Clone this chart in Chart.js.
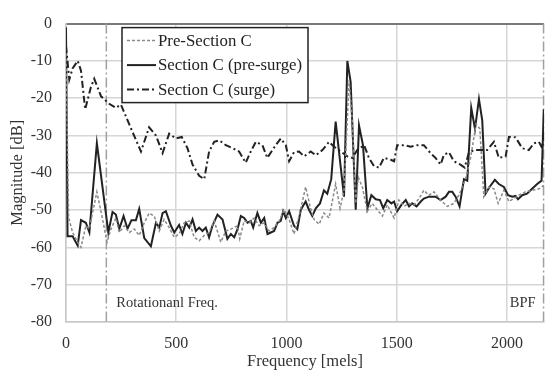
<!DOCTYPE html>
<html lang="en">

<head>
  <meta charset="UTF-8" />
  <script src="https://cdn.jsdelivr.net/npm/chart.js"></script>
  <title>Magnitude spectrum - Section C</title>
  <style>
    html, body { margin: 0; padding: 0; background: #fff; }
    .box { width: 547px; height: 372px; }
  </style>
</head>

<body>
  <div class="box">
    <canvas id="grafico_espectro" width="547" height="372"></canvas>
  </div>
</body>

</html>

<script>
  // Pre-Section C (gray dashed)
  var preFreq = [0, 12, 30, 53, 68, 90, 106, 140, 166, 186, 204, 226, 242, 264, 287, 310, 332, 355, 377, 400,
    423, 445, 468, 491, 513, 536, 559, 581, 604, 627, 649, 672, 702, 725, 748, 778, 788, 808, 831, 853,
    876, 899, 921, 944, 967, 989, 1012, 1034, 1057, 1087, 1107, 1125, 1148, 1170, 1193, 1223, 1243, 1261, 1284, 1299,
    1314, 1326, 1344, 1367, 1389, 1412, 1435, 1457, 1488, 1510, 1533, 1556, 1578, 1601, 1623, 1646, 1669, 1699, 1729, 1759,
    1782, 1812, 1835, 1860, 1877, 1895, 1918, 1941, 1960, 1986, 2009, 2031, 2054, 2084, 2114, 2145, 2167]
  var preDb = [-8, -52, -56, -58.6, -60, -54.2, -55, -45.1, -52.5, -58.6, -55.1, -52.1, -56, -54.2, -56, -55.1, -56.8, -53.4, -50.8, -51.6,
    -55.6, -52.5, -54.7, -57.3, -56.4, -53.4, -52.9, -57.3, -58.2, -56.8, -56, -52.9, -58.6, -55.6, -55.1, -54.2, -57.7, -52.9, -53.4, -52.1,
    -54.2, -53.4, -55.6, -54.7, -52.9, -49.9, -52.5, -56.4, -51.6, -43.8, -49, -52.5, -53.8, -50.8, -52.1, -43, -49.5, -44.7, -15.2, -26.5,
    -48.2, -41.2, -43.8, -50.3, -48.2, -49.9, -51.6, -48.6, -52.1, -47.3, -49, -48.2, -48.6, -46.9, -44.7, -46, -45.1, -47.3, -49, -48.2,
    -46, -41.7, -36, -26.9, -28.2, -46.4, -43.8, -44.3, -48.2, -44.7, -47.7, -46.9, -46, -45.1, -44.7, -44.3, -43.4]

  // Section C (pre-surge) (black solid)
  var preSurgeFreq = [0, 7, 30, 53, 68, 90, 106, 140, 192, 211, 226, 242, 261, 279, 297, 317, 332, 355, 385, 408,
    423, 438, 453, 476, 491, 513, 528, 544, 559, 574, 589, 604, 619, 634, 649, 664, 687, 710, 732, 748,
    763, 778, 793, 808, 823, 838, 849, 868, 884, 899, 914, 929, 944, 959, 974, 985, 997, 1012, 1034, 1049,
    1065, 1087, 1102, 1117, 1133, 1152, 1170, 1185, 1203, 1223, 1261, 1276, 1291, 1314, 1329, 1347, 1367, 1385, 1405,
    1424, 1439, 1457, 1476, 1488, 1502, 1521, 1541, 1556, 1570, 1590, 1609, 1623, 1646, 1676, 1699, 1722, 1737, 1752, 1767,
    1785, 1805, 1820, 1838, 1855, 1873, 1888, 1903, 1921, 1945, 1963, 1986, 2005, 2024, 2039, 2050, 2069, 2091, 2114, 2137,
    2157, 2167]
  var preSurgeDb = [-1, -57, -57, -59.5, -52.7, -53.4, -56, -32.1, -56, -50.5, -51.2, -55, -51.6, -55, -52.7, -52.7, -49.7, -57.5, -59.7, -53.4,
    -54.7, -50.8, -50.3, -54.2, -56, -54, -56.4, -53.4, -54.7, -52.5, -55.6, -54.7, -55.6, -54.7, -57.3, -54.2, -51.2, -52.5, -57.7, -56.4,
    -57.3, -55.1, -51.6, -52.1, -53.4, -52.9, -54.7, -50.8, -53.4, -52.1, -56.4, -56, -55.6, -53.4, -52.9, -50.3, -52.1, -50.3, -54.2, -55.1,
    -49.9, -47.7, -49.9, -51.6, -49.5, -48.2, -44.7, -45.6, -41.7, -26.3, -46.4, -10, -15.6, -49.9, -27.3, -32.6, -49.5, -46, -47.1,
    -47.3, -49.5, -47.3, -48.2, -47.7, -50.3, -48.6, -47.3, -49, -48.2, -49, -47.7, -46.9, -46.4, -46.4, -47.3, -46.4, -45.1, -45.1, -46.4,
    -49, -41.7, -42.1, -22.6, -28.2, -20.2, -26, -45.6, -43.8, -41.9, -43, -43.8, -46, -46.4, -46.2, -47.1, -46, -45.6, -44.3, -43,
    -42.1, -23]

  // Section C (surge) (black dash-dot)
  var surgeFreq = [0, 15, 30, 53, 68, 87, 113, 128, 159, 196, 226, 249, 294, 340, 377, 408, 438, 468, 498, 525,
    551, 574, 604, 627, 649, 672, 695, 725, 755, 785, 815, 838, 861, 891, 913, 951, 974, 997, 1012, 1034,
    1057, 1080, 1110, 1133, 1163, 1193, 1216, 1246, 1276, 1299, 1321, 1352, 1374, 1397, 1420, 1442, 1473, 1488, 1502, 1533,
    1563, 1593, 1623, 1653, 1676, 1699, 1714, 1737, 1759, 1789, 1808, 1827, 1850, 1880, 1910, 1941, 1963, 1994, 2009, 2039,
    2069, 2099, 2122, 2145, 2160, 2167]
  var surgeDb = [-6, -15, -12, -10, -12.6, -23, -17, -14.8, -19.5, -21.5, -22.6, -21.7, -28, -34.3, -27.8, -30, -34.7, -29.5, -30.8, -30.4,
    -33.4, -37.8, -40.8, -41.7, -34.3, -31.7, -31.3, -32.6, -33.4, -34.3, -37.3, -34.3, -31.7, -32.6, -36, -32.6, -30.8, -32.6, -36.9, -34.5,
    -34.3, -35.6, -34.3, -35.3, -33.9, -31.7, -33, -34.3, -35.6, -36, -33.9, -32.6, -36, -38.2, -38.6, -36, -36.5, -36.9, -32.6, -32.6,
    -33, -32.6, -32.6, -34.7, -36, -37.8, -35.2, -34.5, -36.9, -37.8, -38.6, -34.7, -33.9, -33.9, -33.9, -31.7, -36, -35.6, -30.4, -30.5,
    -33.4, -33.9, -32.1, -31.7, -33.4, -29]

  // ticks do eixo x
  var xTicks = [0, 500, 1000, 1500, 2000]

  // linhas de referencia
  var rotFreq = 183
  var bpfFreq = 2166
  var xMax = 2168

  function juntar(xs, ys) {
    return xs.map(function (x, i) { return { x: x, y: ys[i] } })
  }

  var fonte = "'Liberation Serif', 'Times New Roman', serif"

  // legenda e linhas verticais desenhadas por cima
  const extras = {
    id: "extras",
    beforeDatasetsDraw(chart) {
      const ctx = chart.ctx
      const a = chart.chartArea
      const sx = chart.scales.x
      ctx.save()
      ctx.strokeStyle = "#a0a0a0"
      ctx.lineWidth = 1.5
      ctx.setLineDash([10, 3, 2, 3])
      ;[rotFreq, bpfFreq].forEach(function (f) {
        var px = sx.getPixelForValue(f)
        ctx.beginPath()
        ctx.moveTo(px, a.top)
        ctx.lineTo(px, a.bottom)
        ctx.stroke()
      })
      ctx.setLineDash([])
      ctx.fillStyle = "#333"
      ctx.font = "14.5px " + fonte
      ctx.textBaseline = "middle"
      ctx.textAlign = "left"
      ctx.fillText("Rotationanl Freq.", sx.getPixelForValue(rotFreq) + 10, a.bottom - 19)
      ctx.textAlign = "right"
      ctx.fillText("BPF", sx.getPixelForValue(bpfFreq) - 8, a.bottom - 19)
      ctx.restore()
    },
    afterDatasetsDraw(chart) {
      const ctx = chart.ctx
      const a = chart.chartArea
      var bx = a.left + 56, by = a.top + 4, bw = 186, bh = 75
      ctx.save()
      ctx.fillStyle = "#fff"
      ctx.fillRect(bx, by, bw, bh)
      ctx.strokeStyle = "#222"
      ctx.lineWidth = 1.5
      ctx.strokeRect(bx, by, bw, bh)
      ctx.font = "16.8px " + fonte
      ctx.textBaseline = "middle"
      ctx.textAlign = "left"
      chart.data.datasets.forEach(function (ds, i) {
        var ly = by + 13 + i * 24.5
        ctx.strokeStyle = ds.borderColor
        ctx.lineWidth = ds.borderWidth
        ctx.setLineDash(ds.borderDash || [])
        ctx.beginPath()
        ctx.moveTo(bx + 5, ly)
        ctx.lineTo(bx + 34, ly)
        ctx.stroke()
        ctx.fillStyle = "#222"
        ctx.fillText(ds.label, bx + 36, ly + 1)
      })
      ctx.restore()
    }
  }

  const espectro = document.getElementById("grafico_espectro").getContext("2d")

  const dadosEspectro = {
    datasets: [{
        label: "Pre-Section C",
        data: juntar(preFreq, preDb),
        borderColor: "#8a8a8a",
        borderWidth: 1.5,
        borderDash: [3, 2],
      },
      {
        label: "Section C (pre-surge)",
        data: juntar(preSurgeFreq, preSurgeDb),
        borderColor: "#222",
        borderWidth: 2,
      },
      {
        label: "Section C (surge)",
        data: juntar(surgeFreq, surgeDb),
        borderColor: "#222",
        borderWidth: 2,
        borderDash: [7, 3, 2, 3],
      },
    ],
  }

  const configEspectro = {
    type: "line",
    data: dadosEspectro,
    plugins: [extras],
    options: {
      responsive: false,
      animation: false,
      layout: { padding: { top: 15, right: 3, left: 0, bottom: 0 } },
      elements: { point: { radius: 0 }, line: { tension: 0, fill: false } },
      plugins: { legend: { display: false }, tooltip: { enabled: false } },
      scales: {
        x: {
          type: "linear",
          min: 0,
          max: xMax,
          afterFit: function (s) { s.height = 50 },
          afterBuildTicks: function (s) { s.ticks = xTicks.map(function (v) { return { value: v } }) },
          ticks: {
            padding: 12, color: "#333", font: { family: fonte, size: 16 }, maxRotation: 0, autoSkip: false,
            callback: function (v) { return String(v) }
          },
          grid: { color: "#d6d6d6", lineWidth: 1.5, drawTicks: false },
          border: { color: "#c8c8c8", width: 1.5 },
          title: { display: true, text: "Frequency [mels]", color: "#333", font: { family: fonte, size: 16.5 }, padding: { top: 0, bottom: 0 } },
        },
        y: {
          min: -80,
          max: 0,
          afterFit: function (s) { s.width = 66 },
          ticks: { stepSize: 10, padding: 14, color: "#333", font: { family: fonte, size: 16 } },
          grid: {
            color: function (c) { return c.tick && c.tick.value === 0 ? "#7a7a7a" : "#d6d6d6" },
            lineWidth: function (c) { return c.tick && c.tick.value === 0 ? 2 : 1.5 },
            drawTicks: false
          },
          border: { color: "#c8c8c8", width: 1.5 },
          title: { display: true, text: "Magnitude [dB]", color: "#333", font: { family: fonte, size: 16.5 }, padding: { top: 8, bottom: 0 } },
        },
      },
    },
  }

  const graficoEspectro = new Chart(espectro, configEspectro)
</script>
